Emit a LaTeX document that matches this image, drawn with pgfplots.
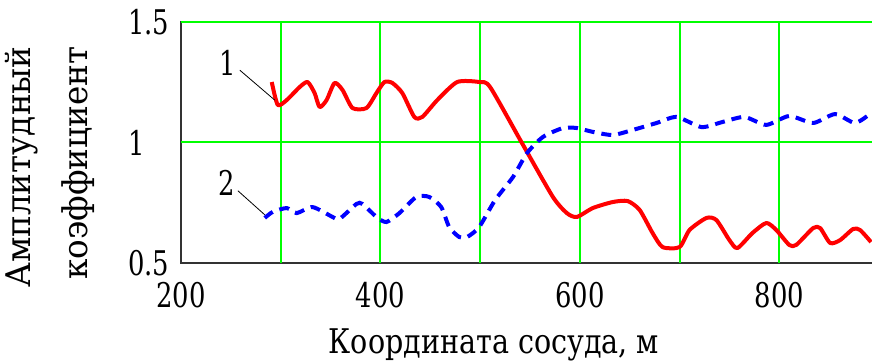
\documentclass[border=0pt]{standalone}
\usepackage{fontspec}
\setmainfont{DejaVu Serif}
\newfontfamily\tickfont{DejaVu Serif}[FakeStretch=0.76]
\newfontfamily\xlabfont{DejaVu Serif}[FakeStretch=0.84]
\newfontfamily\ylabfont{DejaVu Serif}[FakeStretch=0.96]
\usepackage{pgfplots}
\pgfplotsset{compat=1.18}
\definecolor{gridgreen}{RGB}{0,255,0}
\definecolor{cred}{RGB}{255,0,0}
\definecolor{cblue}{RGB}{0,0,255}
\begin{document}
\begin{tikzpicture}
\begin{axis}[
  scale only axis, width=693pt, height=241pt,
  xmin=200, xmax=895, ymin=0.5, ymax=1.5,
  xtick={200,400,600,800},
  ytick={0.5,1,1.5},
  major tick length=0pt,
  axis line style={black!80, line width=1.5pt},
  /pgf/number format/assume math mode=true,
  xticklabel style={font=\tickfont\fontsize{34}{34}\selectfont, anchor=base, yshift=-44pt, inner sep=0pt},
  yticklabel style={font=\tickfont\fontsize{34}{34}\selectfont, anchor=west, xshift=-53pt, inner sep=0pt},
  xlabel={Координата сосуда, м},
  every axis x label/.style={at={(axis description cs:0.4517,0)}, anchor=base, yshift=-90pt, inner sep=0pt, font=\xlabfont\fontsize{34}{34}\selectfont},
  ylabel={Амплитудный\\коэффициент},
  every axis y label/.style={at={(axis description cs:0,0.398)}, anchor=center, xshift=-131pt, rotate=90, align=right, inner sep=0pt, font=\ylabfont\fontsize{34}{57}\selectfont},
]
\pgfplotsinvokeforeach{300,400,500,600,700,800}{
  \draw[gridgreen, line width=2pt] (axis cs:#1,0.5) -- (axis cs:#1,1.5);
}
\draw[gridgreen, line width=2pt] (axis cs:200,1) -- (axis cs:895,1);
\draw[gridgreen, line width=2pt] (axis cs:200,1.5) -- (axis cs:895,1.5);
\addplot[cred, line width=4pt, smooth, tension=0.4, line join=round] coordinates {
(291,1.251) (297,1.156) (306,1.176) (319,1.230) (327,1.251) (334,1.205) (339,1.147)
(346,1.176) (354,1.247) (362,1.218) (372,1.143) (386,1.143) (396,1.205) (404,1.251)
(412,1.247) (422,1.205) (434,1.106) (442,1.106) (457,1.176) (477,1.251) (499,1.251)
(510,1.230) (543,0.990) (573,0.774) (587,0.707) (597,0.691) (613,0.728) (633,0.753)
(648,0.757) (660,0.720) (673,0.624) (683,0.566) (700,0.566) (710,0.637) (727,0.687)
(737,0.678) (750,0.595) (758,0.562) (773,0.624) (787,0.666) (797,0.637) (810,0.575)
(817,0.575) (834,0.645) (841,0.645) (851,0.583) (861,0.595) (874,0.641) (881,0.637)
(892,0.587)
};
\addplot[cblue, line width=4pt, smooth, tension=0.4, dash pattern=on 10pt off 7pt] coordinates {
(284,0.687) (292,0.712) (306,0.728) (316,0.707) (332,0.732) (352,0.691) (359,0.683)
(376,0.745) (382,0.745) (396,0.691) (406,0.670) (419,0.707) (436,0.774) (449,0.774)
(461,0.732) (469,0.649) (479,0.608) (487,0.608) (499,0.649) (515,0.761) (533,0.857)
(547,0.956) (563,1.023) (583,1.060) (597,1.060) (613,1.044) (633,1.031) (653,1.052)
(677,1.081) (697,1.106) (722,1.064) (743,1.085) (765,1.106) (787,1.073) (810,1.110)
(834,1.081) (856,1.118) (876,1.081) (892,1.122)
};
\node[font=\tickfont\fontsize{34}{34}\selectfont, inner sep=0pt] at (axis cs:247,1.33) {1};
\draw[black, line width=0.8pt] (axis cs:259,1.30) -- (axis cs:294,1.176);
\node[font=\tickfont\fontsize{34}{34}\selectfont, inner sep=0pt] at (axis cs:246,0.832) {2};
\draw[black, line width=0.8pt] (axis cs:257,0.80) -- (axis cs:284,0.70);
\end{axis}
\pgfresetboundingbox
\path[use as bounding box] (-181pt,-98pt) rectangle (691pt,263pt);
\end{tikzpicture}
\end{document}
